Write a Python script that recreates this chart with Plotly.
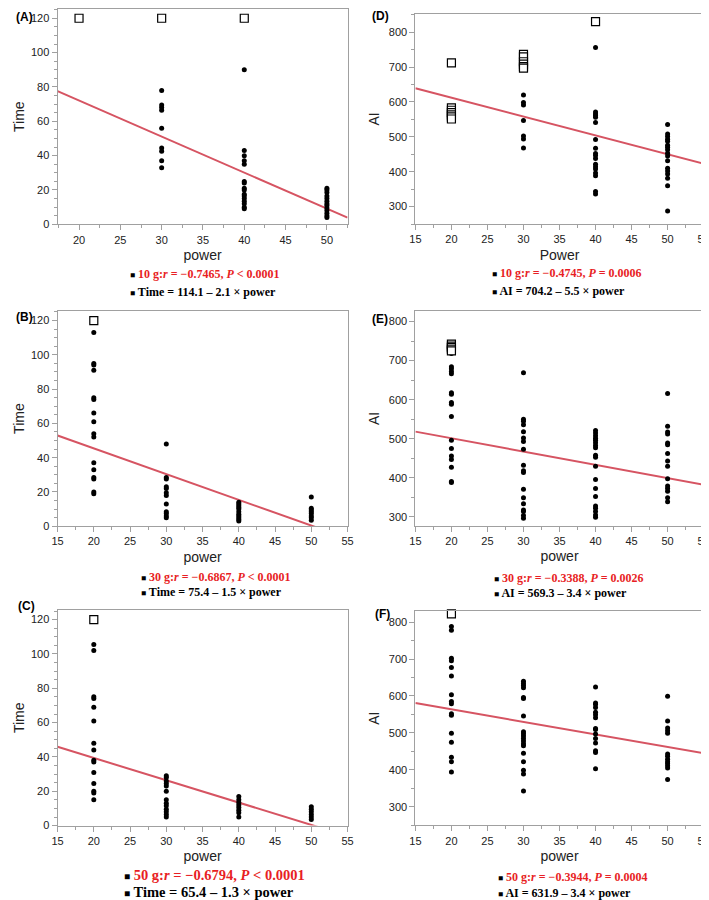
import plotly.graph_objects as go

# ---------------- data ----------------
# Panel A (10 g, Time)
A_dots = {30: [78, 69.5, 68, 66.5, 56, 44.5, 42.5, 37, 33],
          40: [90, 43, 40, 37, 35, 25, 24, 21, 20, 17.5, 16.5, 15, 13.5, 12, 10, 9],
          50: [21, 20, 18.5, 16.5, 15, 13.5, 12, 11, 9.5, 8, 6.5, 5, 4]}
A_open = {20: [120], 30: [120], 40: [120]}
A_fit = [114.1, -2.1]

# Panel B (30 g, Time)
B_dots = {20: [113, 95, 94, 91, 75, 74, 66, 61, 54, 52, 37, 33, 28.5, 27.5, 20, 19],
          30: [48, 28.5, 27.5, 23, 22, 19.5, 18, 13, 8.5, 7.5, 6, 5],
          40: [14, 13, 12, 11, 10, 8.5, 7, 6, 5, 4, 3],
          50: [17, 10.5, 9.5, 8.5, 7.5, 6, 5, 3.5]}
B_open = {20: [120]}
B_fit = [75.4, -1.5]

# Panel C (50 g, Time)
C_dots = {20: [105.5, 102, 75, 74, 69, 61, 48, 44, 38, 37, 31, 24.5, 20, 19, 15],
          30: [29, 28, 26, 24.5, 23, 20, 15, 13, 11.5, 9.5, 8, 6.5, 5],
          40: [17, 15, 13.5, 12, 10.5, 9, 7.5, 5],
          50: [11, 9.5, 8, 6.5, 5, 3.5]}
C_open = {20: [120]}
C_fit = [65.4, -1.3]

# Panel D (10 g, AI)
D_dots = {30: [620, 598, 591, 547, 502, 494, 468],
          40: [756, 571, 565, 561, 556, 541, 492, 467, 452, 446, 438, 421, 414, 408, 396, 388, 343, 336],
          50: [535, 508, 501, 493, 487, 476, 470, 463, 453, 445, 431, 410, 402, 393, 381, 360, 287]}
D_open = {20: [712, 583, 576, 569, 563, 557, 551],
          30: [736, 729, 715, 708, 701, 697],
          40: [830]}
D_fit = [720.0, -5.4]

# Panel E (30 g, AI)
E_dots = {20: [718, 684, 679, 672, 666, 618, 614, 593, 588, 557, 496, 475, 456, 447, 427, 391, 388],
          30: [669, 550, 545, 536, 518, 502, 493, 473, 432, 418, 414, 371, 349, 334, 318, 314, 304, 297],
          40: [521, 515, 508, 501, 496, 490, 483, 477, 458, 453, 430, 396, 373, 352, 328, 322, 314, 305, 299],
          50: [616, 532, 517, 512, 489, 485, 462, 443, 430, 398, 379, 373, 366, 349, 339]}
E_open = {20: [742, 737, 733, 729, 725]}
E_fit = [569.3, -3.4]

# Panel F (50 g, AI)
F_dots = {20: [788, 778, 702, 695, 677, 654, 603, 585, 579, 552, 548, 499, 475, 434, 422, 394],
          30: [640, 634, 628, 622, 596, 593, 546, 503, 498, 492, 485, 478, 471, 465, 445, 422, 399, 389, 343],
          40: [624, 581, 577, 569, 556, 549, 541, 512, 509, 497, 485, 473, 452, 447, 403],
          50: [599, 532, 513, 506, 499, 443, 437, 429, 422, 417, 411, 405, 374]}
F_open = {20: [822]}
F_fit = [631.9, -3.4]

# annotation texts
stats_lines = {
    "A": ("10 g:<i>r</i> = −0.7465, <i>P</i> &lt; 0.0001", "Time = 114.1 – 2.1 × power"),
    "B": ("30 g:<i>r</i> = −0.6867, <i>P</i> &lt; 0.0001", "Time = 75.4 – 1.5 × power"),
    "C": ("50 g:<i>r</i> = −0.6794, <i>P</i> &lt; 0.0001", "Time = 65.4 – 1.3 × power"),
    "D": ("10 g:<i>r</i> = −0.4745, <i>P</i> = 0.0006", "AI = 704.2 – 5.5 × power"),
    "E": ("30 g:<i>r</i> = −0.3388, <i>P</i> = 0.0026", "AI = 569.3 – 3.4 × power"),
    "F": ("50 g:<i>r</i> = −0.3944, <i>P</i> = 0.0004", "AI = 631.9 – 3.4 × power"),
}

# ---------------- layout helpers ----------------
W, H = 709, 900
def px_x(v):
    return v / W
def px_y(v):
    return 1 - v / H

panels = {
    # key: (dots, open, fit, xrange, yrange, ytitle, xtitle, box(left, right, top, bottom), ydtick, yminor, title standoff)
    "A": (A_dots, A_open, A_fit, [17.4, 52.5], [0, 125.4], "Time", "power", (44.3, 339.3, 0, 217), 20, 5, 3),
    "B": (B_dots, B_open, B_fit, [15, 55], [0, 125.6], "Time", "power", (44.3, 339.3, 304.3, 521.3), 20, 5, 3),
    "C": (C_dots, C_open, C_fit, [15, 55], [0, 125.6], "Time", "power", (44.3, 339.3, 605.7, 823), 20, 5, 3),
    "D": (D_dots, D_open, D_fit, [15, 55], [250, 852], "AI", "Power", (408.3, 701.5, 5, 216.7), 100, 50, 5),
    "E": (E_dots, E_open, E_fit, [15, 55], [277, 827], "AI", "power", (408.3, 701.5, 304.3, 521), 100, 50, 5),
    "F": (F_dots, F_open, F_fit, [15, 55], [250, 830], "AI", "power", (408.3, 701.5, 606.7, 822.7), 100, 50, 5),
}

ann_pos = {
    # left x, red line y, black line y, font size
    "A": (116, 267, 285, 12),
    "B": (127, 572, 588, 12),
    "C": (110, 873, 890, 14.5),
    "D": (484, 266, 284, 12),
    "E": (486, 573, 589, 12),
    "F": (490, 875, 891, 12),
}
label_pos = {"A": (0, 8), "B": (0, 310), "C": (2, 602), "D": (362, 7), "E": (362, 312), "F": (365, 610)}

RED = "rgb(232,30,36)"
LINE = "rgb(214,84,98)"
FRAME = "rgb(160,160,160)"
SANS = "Liberation Sans, Arial, sans-serif"
SERIF = "Liberation Serif, Times New Roman, serif"

fig = go.Figure()
annotations = []
layout_axes = {}

for i, (key, (dots, opn, fit, xr, yr, ytitle, xtitle, box, ydt, ymin, tso)) in enumerate(panels.items()):
    n = i + 1
    xa = "x" if n == 1 else f"x{n}"
    ya = "y" if n == 1 else f"y{n}"
    xname = "xaxis" if n == 1 else f"xaxis{n}"
    yname = "yaxis" if n == 1 else f"yaxis{n}"
    l, r, t, b = box

    # regression line across the axis range
    fig.add_trace(go.Scatter(x=xr, y=[fit[0] + fit[1] * v for v in xr], mode="lines",
                             line=dict(color=LINE, width=2), xaxis=xa, yaxis=ya,
                             showlegend=False, hoverinfo="skip"))
    dx, dy = [], []
    for p, vals in dots.items():
        dx += [p] * len(vals)
        dy += vals
    fig.add_trace(go.Scatter(x=dx, y=dy, mode="markers",
                             marker=dict(color="black", size=5, symbol="circle"),
                             xaxis=xa, yaxis=ya, showlegend=False, cliponaxis=False))
    ox, oy = [], []
    for p, vals in opn.items():
        ox += [p] * len(vals)
        oy += vals
    fig.add_trace(go.Scatter(x=ox, y=oy, mode="markers",
                             marker=dict(color="white", size=8, symbol="square",
                                         line=dict(color="black", width=1.2)),
                             xaxis=xa, yaxis=ya, showlegend=False, cliponaxis=False))

    layout_axes[xname] = dict(
        domain=[px_x(l), px_x(r)], range=xr, anchor=ya, dtick=5, tick0=0,
        showgrid=False, zeroline=False, showline=True, linecolor=FRAME, linewidth=1, mirror=True,
        ticks="outside", ticklen=5, tickcolor=FRAME, tickwidth=1, ticklabeloverflow="allow",
        minor=dict(dtick=2.5, tick0=0, ticks="outside", ticklen=3, tickcolor=FRAME, showgrid=False),
        tickfont=dict(family=SANS, size=11, color="#222"),
        title=dict(text=xtitle, font=dict(family=SANS, size=14, color="#222"), standoff=5),
    )
    layout_axes[yname] = dict(
        domain=[px_y(b), px_y(t)], range=yr, anchor=xa, dtick=ydt, tick0=0,
        showgrid=False, zeroline=False, showline=True, linecolor=FRAME, linewidth=1, mirror=True,
        ticks="outside", ticklen=5, tickcolor=FRAME, tickwidth=1,
        minor=dict(dtick=ymin, tick0=0, ticks="outside", ticklen=3, tickcolor=FRAME, showgrid=False),
        tickfont=dict(family=SANS, size=11, color="#222"),
        title=dict(text=ytitle, font=dict(family=SANS, size=14, color="#222"), standoff=tso),
    )

    ax, ry, by, fs = ann_pos[key]
    red_txt, blk_txt = stats_lines[key]
    sq = f"<span style='font-size:{fs*0.7:.1f}px;color:black'>■</span> "
    annotations.append(dict(text=f"<b>{sq}{red_txt}</b>", x=px_x(ax), y=px_y(ry), xref="paper", yref="paper",
                            xanchor="left", yanchor="middle", showarrow=False,
                            font=dict(family=SERIF, size=fs, color=RED)))
    annotations.append(dict(text=f"<b>{sq}{blk_txt}</b>", x=px_x(ax), y=px_y(by), xref="paper", yref="paper",
                            xanchor="left", yanchor="middle", showarrow=False,
                            font=dict(family=SERIF, size=fs, color="black")))
    lx, lyy = label_pos[key]
    annotations.append(dict(text=f"<b>({key})</b>", x=px_x(lx), y=px_y(lyy), xref="paper", yref="paper",
                            xanchor="left", yanchor="middle", showarrow=False,
                            font=dict(family=SANS, size=12, color="black")))

fig.update_layout(
    width=W, height=H, margin=dict(l=0, r=0, t=0, b=0),
    paper_bgcolor="white", plot_bgcolor="white",
    annotations=annotations, showlegend=False,
    **layout_axes,
)

fig.write_html("out.html")
